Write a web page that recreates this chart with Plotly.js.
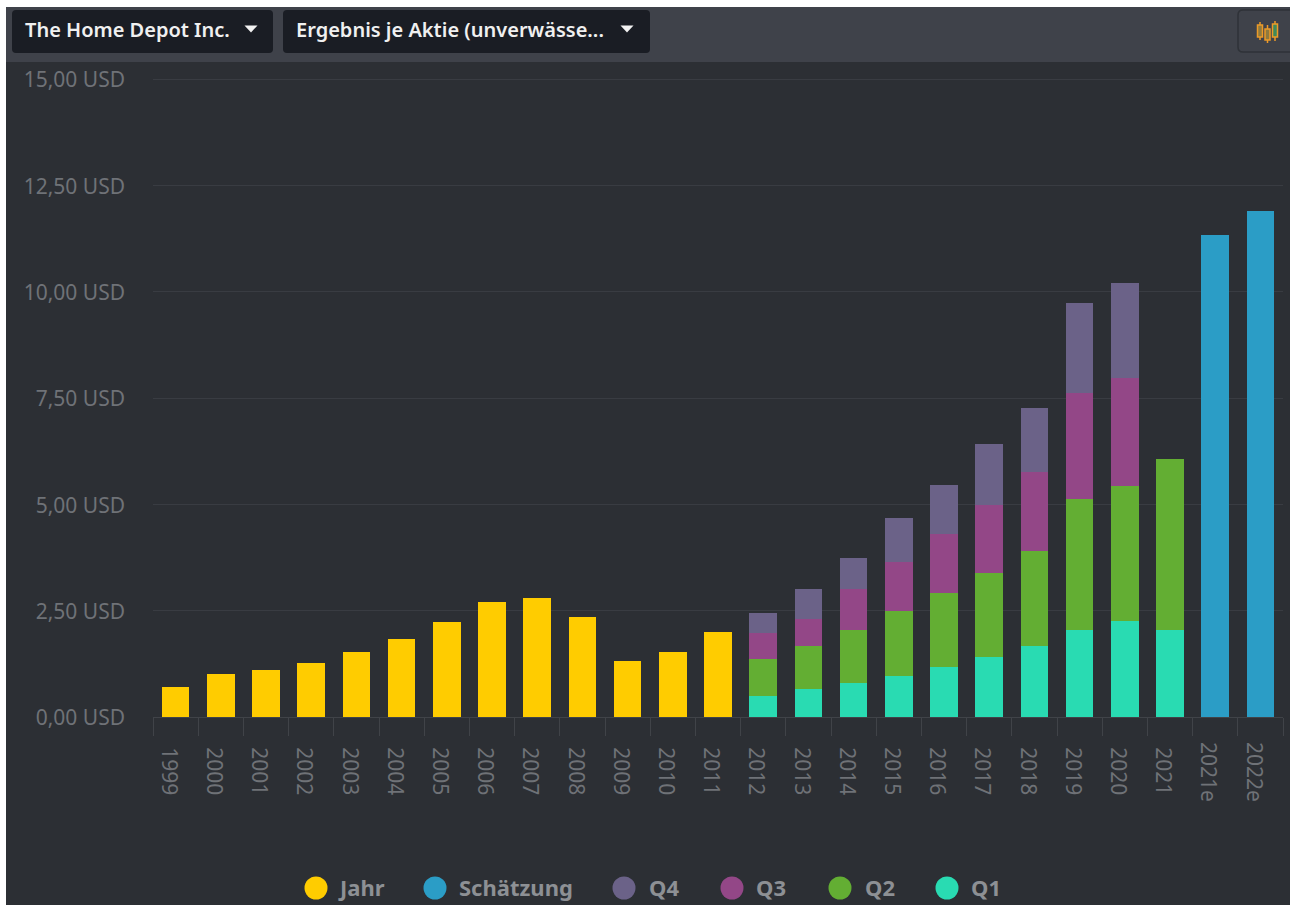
<!DOCTYPE html>
<html>
<head>
<meta charset="utf-8">
<script src="https://cdn.plot.ly/plotly-3.0.1.min.js"></script>
<style>html,body{margin:0;padding:0;background:#fff;overflow:hidden}#c{width:1290px;height:907px}</style>
</head>
<body>
<div id="c"></div>
<script>
const categories = ["1999","2000","2001","2002","2003","2004","2005","2006","2007","2008","2009","2010","2011","2012","2013","2014","2015","2016","2017","2018","2019","2020","2021","2021e","2022e"];
const yearCats = categories.slice(0,13);
const jahr = [0.70,1.00,1.10,1.27,1.53,1.83,2.23,2.70,2.79,2.35,1.32,1.53,2.00];
const quarterCats = categories.slice(13,23);
const q1 = [0.49,0.66,0.80,0.96,1.18,1.41,1.67,2.05,2.26,2.05];
const q2 = [0.87,1.01,1.25,1.53,1.74,1.98,2.23,3.08,3.17,4.02];
const q3 = [0.61,0.63,0.96,1.15,1.38,1.59,1.86,2.49,2.54,null];
const q4 = [0.48,0.71,0.73,1.04,1.16,1.44,1.51,2.11,2.23,null];
const estCats = categories.slice(23);
const schaetzung = [11.33,11.90];
const yTickVals = [0,2.5,5,7.5,10,12.5,15];
const yTickText = ["0,00 USD","2,50 USD","5,00 USD","7,50 USD","10,00 USD","12,50 USD","15,00 USD"];
const colors = {Jahr:"#ffcc00","Schätzung":"#2b9dc6",Q4:"#6b6288",Q3:"#934787",Q2:"#63ae33",Q1:"#29dbb2"};
const legendItems = [["Jahr",316,336],["Schätzung",435,457],["Q4",624,647],["Q3",732,754],["Q2",840,863],["Q1",947,969]];

const L=153,R=1283,T=77,B=717;
const yTop=15+2/42.53;
const xp=x=>(x-L)/(R-L), yp=y=>(B-y)/(B-T);
const FONT='"Noto Sans", "Open Sans", sans-serif';
function rect(x0,y0,x1,y1,fill,line){return {type:"rect",xref:"paper",yref:"paper",layer:"below",x0:xp(x0),x1:xp(x1),y0:yp(y1),y1:yp(y0),fillcolor:fill,line:line?{color:line,width:1}:{width:0}};}
function rrect(x0,y0,x1,y1,r,fill,line){
  const X=xp,Y=yp;
  const p=`M ${X(x0+r)} ${Y(y0)} L ${X(x1-r)} ${Y(y0)} Q ${X(x1)} ${Y(y0)} ${X(x1)} ${Y(y0+r)} L ${X(x1)} ${Y(y1-r)} Q ${X(x1)} ${Y(y1)} ${X(x1-r)} ${Y(y1)} L ${X(x0+r)} ${Y(y1)} Q ${X(x0)} ${Y(y1)} ${X(x0)} ${Y(y1-r)} L ${X(x0)} ${Y(y0+r)} Q ${X(x0)} ${Y(y0)} ${X(x0+r)} ${Y(y0)} Z`;
  return {type:"path",xref:"paper",yref:"paper",layer:"below",path:p,fillcolor:fill,line:line?{color:line,width:1.5}:{width:0}};
}
function tri(cx,cy,w,h,fill){
  return {type:"path",xref:"paper",yref:"paper",layer:"above",path:`M ${xp(cx-w/2)} ${yp(cy-h/2)} L ${xp(cx+w/2)} ${yp(cy-h/2)} L ${xp(cx)} ${yp(cy+h/2)} Z`,fillcolor:fill,line:{width:0}};
}
function circle(cx,cy,r,fill){
  return {type:"circle",xref:"paper",yref:"paper",layer:"above",x0:xp(cx-r),x1:xp(cx+r),y0:yp(cy+r),y1:yp(cy-r),fillcolor:fill,line:{width:0}};
}
function candle(cx,y0,y1,b0,b1,edge,body){
  return [
    {type:"line",xref:"paper",yref:"paper",layer:"above",x0:xp(cx),x1:xp(cx),y0:yp(y0),y1:yp(y1),line:{color:edge,width:1.5}},
    {type:"rect",xref:"paper",yref:"paper",layer:"above",x0:xp(cx-2.5),x1:xp(cx+2.5),y0:yp(b1),y1:yp(b0),fillcolor:body,line:{color:edge,width:1.5}}
  ];
}
const shapes=[
  rect(6,7,1290,905,"#2c2f34"),
  rect(6,7,1290,62,"#3f424a"),
  rrect(12,10,273,53,4,"#1a1d24"),
  rrect(283,10,650,53,4,"#1a1d24"),
  rrect(1238,10,1296,52,5,"#3f424a","#2f3238"),
  tri(251,29,13,7,"#f2f2f2"),
  tri(627,29,13,7,"#f2f2f2"),
  ...candle(1260,22,40,25,37,"#ec9a28","#8f7a3e"),
  ...candle(1267.5,25,43,29,40,"#ec9a28","#8f7a3e"),
  ...candle(1275,21,41,24,37,"#ec9a28","#3f8a5a"),
  ...legendItems.map(d=>circle(d[1],888,11.5,colors[d[0]]))
];
const annotations=[
  {text:"The Home Depot Inc.",x:xp(23),y:yp(30),xref:"paper",yref:"paper",xanchor:"left",yanchor:"middle",showarrow:false,font:{family:FONT,size:20,color:"#f0f0f0",weight:600}},
  {text:"Ergebnis je Aktie (unverwässe...",x:xp(294),y:yp(30),xref:"paper",yref:"paper",xanchor:"left",yanchor:"middle",showarrow:false,font:{family:FONT,size:20,color:"#f0f0f0",weight:600}},
  ...legendItems.map(d=>({text:"<b>"+d[0]+"</b>",x:xp(d[2]),y:yp(887),xref:"paper",yref:"paper",xanchor:"left",yanchor:"middle",showarrow:false,font:{family:FONT,size:22,color:"#8d9094"}}))
];
const bar=(name,x,y,xaxis)=>({type:"bar",name,x,y,xaxis:xaxis||"x",yaxis:"y",marker:{color:colors[name],line:{width:0}},hoverinfo:"x+y+name"});
const data=[
  bar("Jahr",yearCats,jahr),
  bar("Q1",quarterCats,q1),
  bar("Q2",quarterCats,q2),
  bar("Q3",quarterCats,q3),
  bar("Q4",quarterCats,q4),
  bar("Schätzung",estCats,schaetzung,"x2")
];
const tickFont={family:FONT,size:21,color:"#6f7277"};
const layout={
  width:1290,height:907,
  margin:{l:L,r:1290-R,t:T,b:907-B,pad:0},
  paper_bgcolor:"#ffffff",plot_bgcolor:"rgba(0,0,0,0)",
  barmode:"stack",bargap:0.39,showlegend:false,
  font:{family:FONT,color:"#6f7277",size:21},
  xaxis:{type:"category",categoryorder:"array",categoryarray:categories,tickmode:"array",tickvals:categories,ticktext:categories.map(c=>estCats.includes(c)?"":c),range:[-0.5,24.5],
    tickangle:90,tickson:"boundaries",ticks:"outside",ticklen:18,tickcolor:"#404348",tickwidth:1,showline:true,linecolor:"#404348",linewidth:1,showgrid:false,zeroline:false,automargin:false,
    ticklabelstandoff:25,ticklabelshift:-7,tickfont:tickFont},
  xaxis2:{type:"category",categoryorder:"array",categoryarray:categories,overlaying:"x",anchor:"y",side:"bottom",tickmode:"array",tickvals:estCats,ticktext:estCats,range:[-0.5,24.5],
    tickangle:90,ticks:"",showline:false,showgrid:false,zeroline:false,automargin:false,
    ticklabelstandoff:24,ticklabelshift:-7,tickfont:tickFont},
  yaxis:{range:[0,yTop],tickmode:"array",tickvals:yTickVals,ticktext:yTickText,ticks:"",ticklabelstandoff:27,ticklabelshift:1,showgrid:true,gridcolor:"#393c42",gridwidth:1,zeroline:false,showline:false,automargin:false,
    tickfont:tickFont},
  shapes,annotations
};
Plotly.newPlot("c",data,layout,{displayModeBar:false,staticPlot:true});
</script>
</body>
</html>
